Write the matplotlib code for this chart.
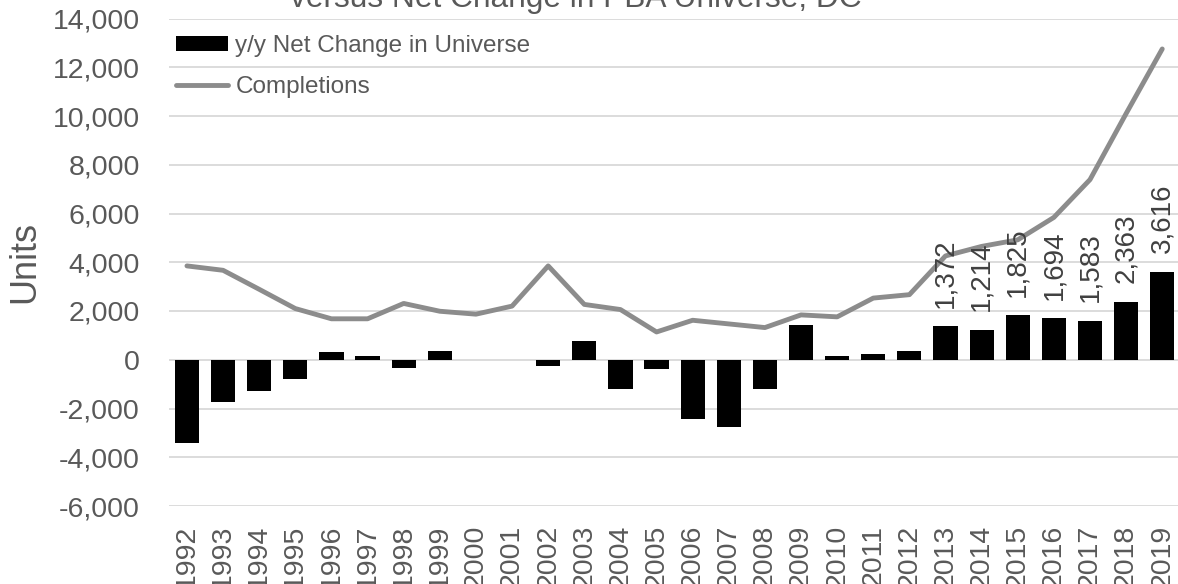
import matplotlib
matplotlib.use("Agg")
import matplotlib.pyplot as plt
from matplotlib.ticker import FuncFormatter, FixedLocator
import numpy as np

years = [str(y) for y in range(1992, 2020)]
net_change = [-3410, -1740, -1280, -810, 320, 150, -320, 360, -30, 0,
              -250, 780, -1210, -370, -2450, -2750, -1210, 1430, 140, 230,
              360, 1372, 1214, 1825, 1694, 1583, 2363, 3616]
completions = [3850, 3670, 2890, 2100, 1680, 1680, 2310, 1990, 1870, 2200,
               3850, 2270, 2060, 1140, 1620, 1470, 1320, 1840, 1760, 2530,
               2670, 4260, 4650, 4920, 5840, 7390, 10100, 12750]
labeled_years = ["2013", "2014", "2015", "2016", "2017", "2018", "2019"]
y_ticks = list(range(-6000, 14001, 2000))
title = "versus Net Change in PBA Universe, DC"

TXT = "#595959"
plt.rcParams['font.family'] = ['Liberation Sans', 'DejaVu Sans']

W, H = 1178, 584
fig = plt.figure(figsize=(W / 100, H / 100), dpi=100)
left_px, right_px, top_px, bot_px = 168.9, 1178, 18.5, 506
ax = fig.add_axes([left_px / W, 1 - bot_px / H, (right_px - left_px) / W, (bot_px - top_px) / H])

x = np.arange(len(years))
bars = ax.bar(x, net_change, width=0.67, color="black", label="y/y Net Change in Universe", zorder=3)
line, = ax.plot(x, completions, color="#8c8c8c", lw=3.5, label="Completions", zorder=4,
                solid_joinstyle="round", solid_capstyle="round")

for i, (yr, v) in enumerate(zip(years, net_change)):
    if yr in labeled_years:
        ax.annotate(f"{v:,}", (i, v), xytext=(0, 13.5), textcoords="offset points",
                    rotation=90, ha="center", va="bottom", fontsize=20, color="#404040", zorder=5)

ax.set_xlim(-0.5, (right_px - 187) / 36.12)
ax.set_ylim(-6000, 14000)
ax.yaxis.set_major_locator(FixedLocator(y_ticks))
ax.yaxis.set_major_formatter(FuncFormatter(lambda v, p: f"{int(v):,}"))
ax.set_xticks(x)
ax.set_xticklabels(years, rotation=90)
ax.tick_params(axis="y", length=0, pad=21, labelsize=20.5, labelcolor=TXT)
ax.tick_params(axis="x", length=0, pad=13.5, labelsize=20.5, labelcolor=TXT)
ax.grid(axis="y", color="#d9d9d9", lw=1.3, zorder=0)
for s in ax.spines.values():
    s.set_visible(False)

fig.text(25 / W, 1 - 262 / H, "Units", rotation=90, ha="center", va="center",
         fontsize=26, color=TXT)
fig.text(575.5 / W, 1 - 7 / H, title, ha="center", va="baseline", fontsize=22.8, color=TXT)

leg = ax.legend(handles=[bars, line], loc="upper left", bbox_to_anchor=(176 / W, 1 - 35 / H),
                bbox_transform=fig.transFigure, frameon=False, fontsize=17.5,
                handlelength=2.14, handleheight=0.58, handletextpad=0.3,
                labelspacing=0.8, borderpad=0, borderaxespad=0)
for t in leg.get_texts():
    t.set_color(TXT)

fig.savefig("out.png", dpi=100)
